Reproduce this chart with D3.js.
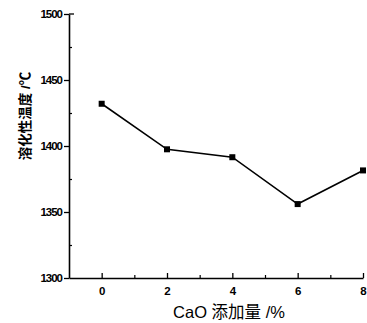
<!DOCTYPE html>
<html>
<head>
<meta charset="utf-8">
<script src="https://cdn.jsdelivr.net/npm/d3@7"></script>
<style>
  body { margin: 0; background: #fff; }
  svg text { font-family: "Liberation Sans", Arial, sans-serif; fill: #000; }
  .title { font-family: "Liberation Sans", "Noto Sans CJK SC", sans-serif; }
</style>
</head>
<body>
<div id="chart"></div>
<script>
// CaO addition (%) vs. melting temperature (°C)
var caoAdd = [0, 2, 4, 6, 8];
var meltTemp = [1432, 1397.5, 1391.5, 1356, 1381.5];
var xTicks = [0, 2, 4, 6, 8];
var yTicks = [1300, 1350, 1400, 1450, 1500];

var w = 367, h = 323;

var svg = d3.select("#chart").append("svg")
    .attr("width", w)
    .attr("height", h);

var x = d3.scaleLinear().domain([-1, 8]).range([69, 363]);
var y = d3.scaleLinear().domain([1300, 1500]).range([278, 14]);

// y axis (major ticks outside, minor ticks inside)
var yAxis = svg.append("g")
    .attr("transform", "translate(" + x(-1) + ",0)")
    .call(d3.axisLeft(y).tickValues(yTicks).tickFormat(d3.format("d"))
        .tickSize(5).tickPadding(2).tickSizeOuter(0));
yAxis.select(".domain").attr("stroke", "#000").attr("stroke-width", 1.6);
yAxis.selectAll(".tick line").attr("stroke", "#000").attr("stroke-width", 1.3);
yAxis.selectAll("text")
    .style("font-size", "11.5px")
    .style("font-weight", "bold")
    .style("letter-spacing", "-1px");

svg.append("g")
    .attr("transform", "translate(" + x(-1) + ",0)")
    .call(d3.axisRight(y).tickValues([1325, 1375, 1425, 1475]).tickSize(3).tickFormat(""))
    .call(g => g.select(".domain").remove())
    .selectAll("line").attr("stroke", "#000").attr("stroke-width", 1.2);

// small tick at top pointing right
svg.append("line")
    .attr("x1", x(-1)).attr("x2", x(-1) + 5)
    .attr("y1", y(1500)).attr("y2", y(1500))
    .attr("stroke", "#000").attr("stroke-width", 1.3);

// x axis (ticks inside)
var xAxis = svg.append("g")
    .attr("transform", "translate(0," + y(1300) + ")")
    .call(d3.axisBottom(x).tickValues(xTicks).tickSize(-5).tickPadding(9).tickSizeOuter(0));
xAxis.select(".domain").attr("stroke", "#000").attr("stroke-width", 1.6);
xAxis.selectAll(".tick line").attr("stroke", "#000").attr("stroke-width", 1.3);
xAxis.selectAll("text")
    .style("font-size", "11.5px")
    .style("font-weight", "bold");

svg.append("g")
    .attr("transform", "translate(0," + y(1300) + ")")
    .call(d3.axisBottom(x).tickValues([1, 3, 5, 7]).tickSize(-3).tickFormat(""))
    .call(g => g.select(".domain").remove())
    .selectAll("line").attr("stroke", "#000").attr("stroke-width", 1.2);

// line + markers
var line = d3.line()
    .x((d, i) => x(caoAdd[i]))
    .y(d => y(d));

svg.append("path")
    .datum(meltTemp)
    .attr("fill", "none")
    .attr("stroke", "#000")
    .attr("stroke-width", 1.6)
    .attr("d", line);

svg.selectAll(".pt")
    .data(meltTemp)
    .enter().append("rect")
    .attr("class", "pt")
    .attr("x", (d, i) => x(caoAdd[i]) - 3)
    .attr("y", d => y(d) - 3)
    .attr("width", 6)
    .attr("height", 6)
    .attr("fill", "#000");

// axis titles
svg.append("text")
    .attr("class", "title")
    .attr("x", 229)
    .attr("y", 318)
    .attr("text-anchor", "middle")
    .style("font-size", "16.5px")
    .text("CaO 添加量 /%");

svg.append("text")
    .attr("class", "title")
    .attr("transform", "translate(30,116) rotate(-90)")
    .attr("text-anchor", "middle")
    .style("font-size", "13.5px")
    .style("font-weight", "bold")
    .text("溶化性温度 /℃");
</script>
</body>
</html>
